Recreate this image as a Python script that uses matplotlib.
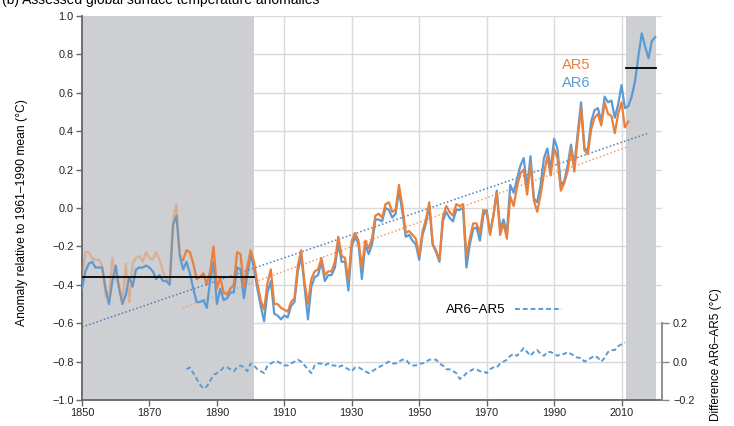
import numpy as np
import matplotlib
matplotlib.use('Agg')
import matplotlib.pyplot as plt

plt.rcParams['font.family'] = ['Liberation Sans', 'DejaVu Sans']

# AR6 annual GMST anomaly, 1850-2020 (rel. to 1961-1990)
years_ar6 = np.arange(1850, 2021)
ar6 = [
    -0.42, -0.33, -0.29, -0.28, -0.31, -0.31, -0.31, -0.42, -0.50, -0.38,
    -0.30, -0.42, -0.50, -0.45, -0.36, -0.41, -0.32, -0.31, -0.31, -0.30,
    -0.31, -0.33, -0.37, -0.35, -0.38, -0.38, -0.40, -0.09, -0.04, -0.25,
    -0.32, -0.28, -0.34, -0.42, -0.49, -0.49, -0.48, -0.52, -0.38, -0.28,
    -0.50, -0.42, -0.48, -0.47, -0.44, -0.44, -0.31, -0.32, -0.47, -0.35,
    -0.24, -0.31, -0.42, -0.51, -0.59, -0.44, -0.38, -0.55, -0.56, -0.58,
    -0.56, -0.57, -0.51, -0.49, -0.33, -0.25, -0.41, -0.58, -0.41, -0.36,
    -0.35, -0.28, -0.38, -0.35, -0.35, -0.31, -0.18, -0.28, -0.28, -0.43,
    -0.20, -0.15, -0.19, -0.37, -0.19, -0.24, -0.19, -0.06, -0.06, -0.07,
    0.00, -0.01, -0.05, -0.03, 0.09, -0.02, -0.15, -0.14, -0.17, -0.19,
    -0.27, -0.14, -0.08, 0.01, -0.19, -0.23, -0.28, -0.07, -0.02, -0.05,
    -0.07, -0.01, -0.01, 0.00, -0.31, -0.19, -0.11, -0.10, -0.17, -0.04,
    -0.01, -0.13, -0.04, 0.09, -0.11, -0.06, -0.13, 0.12, 0.08, 0.15,
    0.22, 0.26, 0.10, 0.27, 0.05, 0.03, 0.12, 0.26, 0.31, 0.20,
    0.36, 0.31, 0.12, 0.14, 0.22, 0.33, 0.22, 0.39, 0.55, 0.31,
    0.30, 0.45, 0.51, 0.52, 0.45, 0.58, 0.55, 0.56, 0.47, 0.54,
    0.64, 0.52, 0.53, 0.58, 0.66, 0.79, 0.91, 0.84, 0.78, 0.87,
    0.89,
]

# AR5 annual GMST anomaly, 1850-2012
years_ar5 = np.arange(1850, 2013)
ar5 = [
    -0.36, -0.23, -0.23, -0.26, -0.27, -0.27, -0.30, -0.46, -0.47, -0.26,
    -0.37, -0.40, -0.49, -0.29, -0.49, -0.29, -0.26, -0.25, -0.28, -0.23,
    -0.26, -0.27, -0.23, -0.27, -0.33, -0.37, -0.38, -0.06, 0.02, -0.24,
    -0.27, -0.22, -0.23, -0.29, -0.37, -0.36, -0.34, -0.40, -0.33, -0.20,
    -0.42, -0.36, -0.44, -0.45, -0.42, -0.40, -0.23, -0.24, -0.41, -0.31,
    -0.22, -0.28, -0.39, -0.48, -0.53, -0.39, -0.32, -0.50, -0.50, -0.52,
    -0.53, -0.54, -0.49, -0.47, -0.30, -0.22, -0.39, -0.50, -0.37, -0.33,
    -0.32, -0.26, -0.35, -0.33, -0.33, -0.28, -0.15, -0.25, -0.26, -0.38,
    -0.17, -0.13, -0.17, -0.31, -0.17, -0.21, -0.16, -0.04, -0.03, -0.05,
    0.02, 0.03, -0.02, -0.01, 0.12, 0.01, -0.13, -0.12, -0.14, -0.16,
    -0.25, -0.12, -0.06, 0.03, -0.19, -0.22, -0.27, -0.05, 0.01, -0.02,
    -0.04, 0.02, 0.01, 0.02, -0.25, -0.16, -0.08, -0.08, -0.13, -0.01,
    -0.02, -0.14, -0.04, 0.08, -0.14, -0.08, -0.16, 0.06, 0.01, 0.11,
    0.18, 0.20, 0.07, 0.23, 0.04, -0.02, 0.07, 0.18, 0.27, 0.17,
    0.31, 0.26, 0.09, 0.13, 0.19, 0.31, 0.19, 0.36, 0.52, 0.30,
    0.28, 0.41, 0.47, 0.49, 0.43, 0.55, 0.49, 0.48, 0.39, 0.49,
    0.55, 0.42, 0.45,
]

# AR6 minus AR5 difference, 1881-2011
years_diff = np.arange(1881, 2012)
diff = [
    -0.04, -0.03, -0.06, -0.09, -0.12, -0.14, -0.13, -0.10, -0.07, -0.06,
    -0.05, -0.03, -0.03, -0.04, -0.05, -0.03, -0.02, -0.03, -0.05, -0.01,
    -0.02, -0.04, -0.05, -0.06, -0.02, -0.01, 0.00, 0.00, -0.01, -0.02,
    -0.02, -0.01, 0.00, 0.01, 0.00, -0.02, -0.04, -0.06, -0.02, -0.01,
    -0.01, -0.02, -0.01, -0.02, -0.02, -0.03, -0.02, -0.03, -0.04, -0.05,
    -0.03, -0.03, -0.04, -0.05, -0.06, -0.05, -0.04, -0.03, -0.02, -0.01,
    0.00, -0.01, -0.01, 0.00, 0.01, 0.01, -0.01, -0.02, -0.02, -0.01,
    -0.01, 0.00, 0.01, 0.01, 0.01, -0.01, -0.02, -0.04, -0.04, -0.05,
    -0.06, -0.09, -0.08, -0.06, -0.05, -0.04, -0.04, -0.05, -0.05, -0.06,
    -0.04, -0.03, -0.03, -0.01, 0.00, 0.01, 0.03, 0.04, 0.03, 0.05,
    0.07, 0.05, 0.03, 0.05, 0.06, 0.04, 0.03, 0.05, 0.05, 0.04,
    0.03, 0.04, 0.04, 0.05, 0.04, 0.03, 0.02, 0.02, 0.00, 0.01,
    0.02, 0.03, 0.02, 0.00, 0.02, 0.05, 0.06, 0.06, 0.08, 0.09,
    0.10,
]

# linear trends (end points)
trend_ar6_years = [1850, 2018]
trend_ar6 = [-0.62, 0.39]
trend_ar5_years = [1880, 2012]
trend_ar5 = [-0.52, 0.32]

# reference period means
base_years = [1850, 1900.9]
base_mean = [-0.36, -0.36]
recent_years = [2011.3, 2020.3]
recent_mean = [0.73, 0.73]

c_ar5 = '#E8803E'
c_ar6 = '#5B9BD5'
c_shade = '#CDCFD2'
c_grid = '#DADADA'
c_axis = '#666666'


def fmt1(v, pos):
    v = round(v, 1)
    if v == 0:
        v = 0.0
    return ('%.1f' % abs(v)) if v >= 0 else '\u2212%.1f' % abs(v)


fig = plt.figure(figsize=(7.34, 4.26), dpi=100)
ax = fig.add_axes([82 / 734, 1 - 400 / 426, 580 / 734, 384 / 426])

ax.set_xlim(1850, 2022)
ax.set_ylim(-1.0, 1.0)
ax.set_xticks(np.arange(1850, 2011, 20))
ax.set_yticks(np.round(np.arange(-1.0, 1.01, 0.2), 1))
ax.yaxis.set_major_formatter(matplotlib.ticker.FuncFormatter(fmt1))
ax.grid(True, color=c_grid, linewidth=1.0)
ax.set_axisbelow(True)

ax.axvspan(1850, 1900.9, color=c_shade, lw=0, zorder=1)
ax.axvspan(2011.4, 2020.3, color=c_shade, lw=0, zorder=1)

ax.plot(trend_ar6_years, trend_ar6, ls=(0, (1, 1.5)), color='#4F7FB8', lw=1.1, zorder=2)
ax.plot(trend_ar5_years, trend_ar5, ls=(0, (1, 1.5)), color='#F0A070', lw=1.1, zorder=2)

ax.plot(years_ar6, ar6, color=c_ar6, lw=1.6, zorder=3)
n_early = 31  # 1850-1880 faded for AR5
ax.plot(years_ar5[:n_early], ar5[:n_early], color=c_ar5, lw=1.6, alpha=0.4, zorder=4)
ax.plot(years_ar5[n_early - 1:], ar5[n_early - 1:], color=c_ar5, lw=1.6, zorder=4)

ax.plot(base_years, base_mean, color='black', lw=1.3, zorder=5)
ax.plot(recent_years, recent_mean, color='black', lw=1.3, zorder=5)

for s in ['top', 'right']:
    ax.spines[s].set_visible(False)
for s in ['left', 'bottom']:
    ax.spines[s].set_color(c_axis)
    ax.spines[s].set_linewidth(1.3)
ax.tick_params(axis='both', direction='out', length=4, width=1, color=c_axis,
               labelsize=7.8, labelcolor='#222222', pad=2)

ax.text(0.828, 0.872, 'AR5', color=c_ar5, fontsize=10.5, transform=ax.transAxes,
        va='center', ha='left')
ax.text(0.828, 0.826, 'AR6', color=c_ar6, fontsize=10.5, transform=ax.transAxes,
        va='center', ha='left')

# difference axis
ax2 = ax.twinx()
ax2.set_ylim(-0.2, 1.8)
ax2.set_yticks([-0.2, 0.0, 0.2])
ax2.yaxis.set_major_formatter(matplotlib.ticker.FuncFormatter(fmt1))
ax2.spines['right'].set_bounds(-0.2, 0.2)
ax2.spines['right'].set_color('#888888')
ax2.spines['right'].set_linewidth(1.3)
for s in ['top', 'left', 'bottom']:
    ax2.spines[s].set_visible(False)
ax2.tick_params(axis='y', direction='out', length=5, width=1, color='#888888',
                labelsize=7.8, labelcolor='#222222', pad=3)
line_d, = ax2.plot(years_diff, diff, color=c_ar6, lw=1.4, ls=(0, (2.5, 1.5)), zorder=5)
ax2.legend([line_d], ['AR6\u2212AR5'], loc='center left', bbox_to_anchor=(0.607, 0.234),
           frameon=False, markerfirst=False, fontsize=9.5, handlelength=3.6,
           handletextpad=0.7)

fig.text(22 / 734, 1 - 213 / 426, 'Anomaly relative to 1961\u20131990 mean (\u00b0C)',
         rotation=90, ha='center', va='center', fontsize=8.7)
fig.text(716 / 734, 1 - 355 / 426, 'Difference AR6\u2013AR5 (\u00b0C)',
         rotation=90, ha='center', va='center', fontsize=8.5)
fig.text(0.003, 1 - 4 / 426, '(b) Assessed global surface temperature anomalies',
         ha='left', va='baseline', fontsize=10)

fig.savefig('out.png', dpi=100)
